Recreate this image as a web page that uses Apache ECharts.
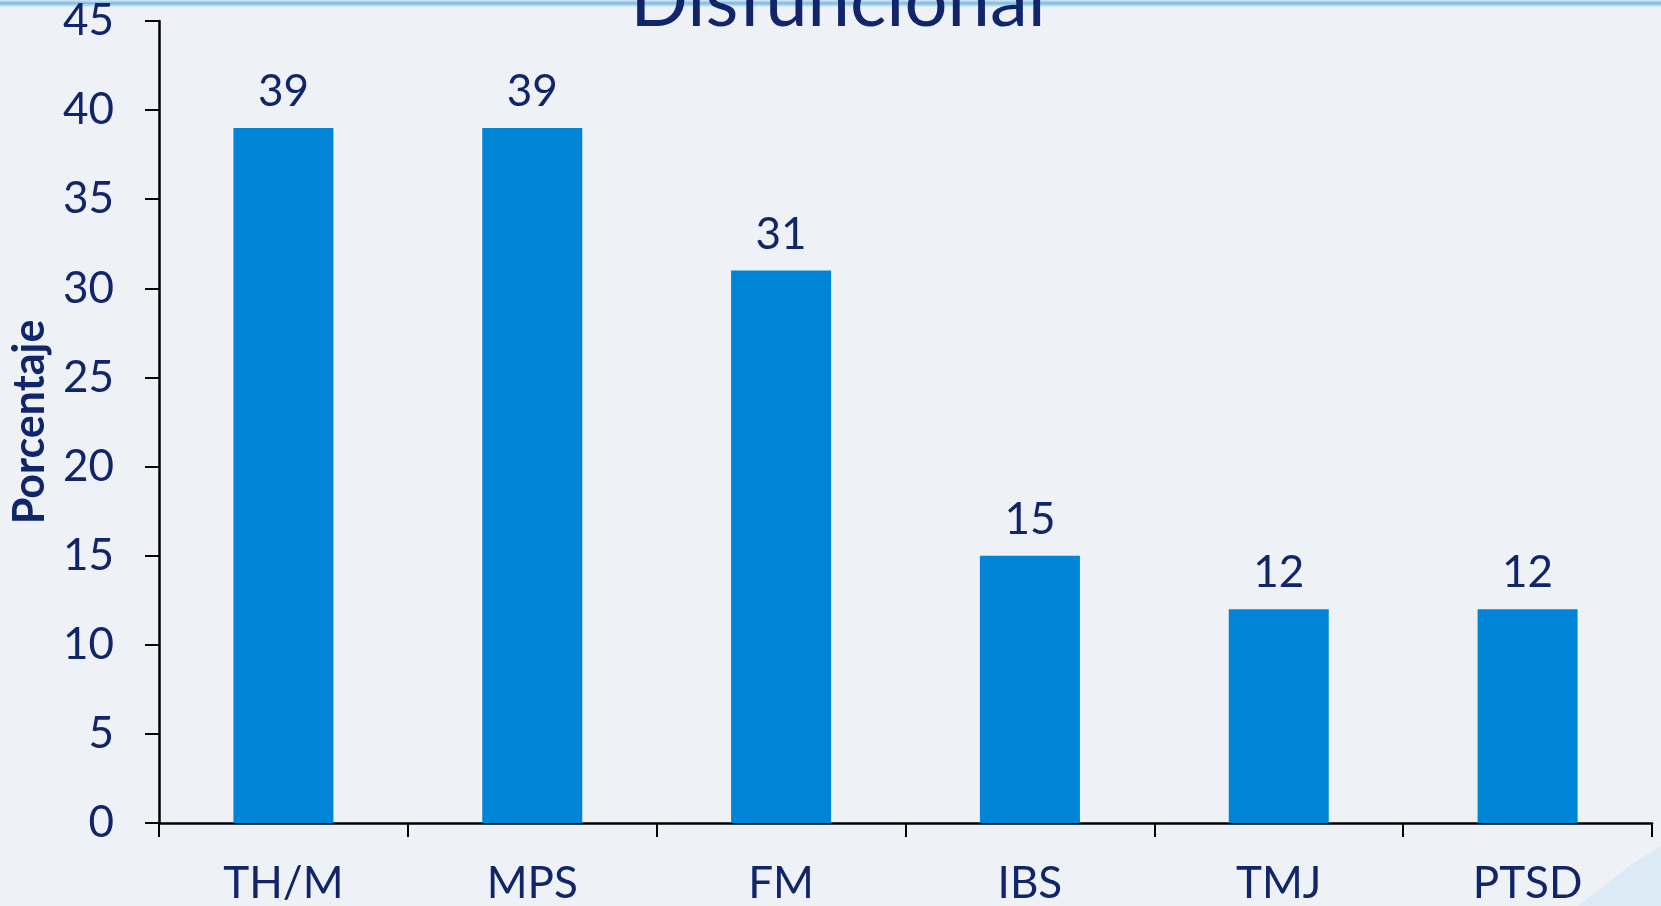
<!DOCTYPE html>
<html>
<head>
<meta charset="utf-8">
<script src="https://cdn.jsdelivr.net/npm/echarts@6/dist/echarts.min.js"></script>
<style>
html,body{margin:0;padding:0;width:1661px;height:906px;overflow:hidden;background:#EEF2F6;}
#c{width:1661px;height:906px;}
</style>
</head>
<body>
<div id="c"></div>
<script>
var categories = ['TH/M', 'MPS', 'FM', 'IBS', 'TMJ', 'PTSD'];
var values = [39, 39, 31, 15, 12, 12];
var yTicks = [0, 5, 10, 15, 20, 25, 30, 35, 40, 45];
var titleText = 'Disfuncional';
var yName = 'Porcentaje';

var navy = '#10256A';
var font = 'Lato';
var chart = echarts.init(document.getElementById('c'));
chart.setOption({
  backgroundColor: '#EEF2F6',
  animation: false,
  graphic: [
    {
      type: 'rect', shape: {x: 0, y: 0, width: 1661, height: 7}, z: 0,
      style: {
        fill: {type: 'linear', x: 0, y: 0, x2: 0, y2: 1,
          colorStops: [{offset: 0, color: '#D8EAF6'}, {offset: 0.45, color: '#79B8E4'}, {offset: 1, color: '#E4EFF7'}]}
      }
    },
    {
      type: 'polygon', z: 0,
      shape: {points: [[1578, 906], [1605, 885], [1632, 864], [1661, 846], [1661, 906]]},
      style: {fill: 'rgba(200,225,244,0.5)'}
    },
    {
      type: 'text', z: 10,
      style: {
        text: titleText, x: 838, y: 39,
        fontFamily: font, fontSize: 76, fill: navy,
        textAlign: 'center', textVerticalAlign: 'bottom'
      }
    }
  ],
  grid: {left: 159, right: 9, top: 21, bottom: 83, containLabel: false, outerBoundsMode: 'none'},
  xAxis: {
    type: 'category',
    data: categories,
    axisLine: {show: true, lineStyle: {color: '#000', width: 2.5}},
    axisTick: {show: true, length: 14, alignWithLabel: false, lineStyle: {color: '#000', width: 2}},
    axisLabel: {color: navy, fontFamily: font, fontSize: 44, margin: 39, interval: 0}
  },
  yAxis: {
    type: 'value',
    min: yTicks[0], max: yTicks[yTicks.length - 1], interval: 5,
    name: yName, nameLocation: 'middle', nameRotate: 90, nameGap: 106,
    nameTextStyle: {color: navy, fontFamily: font, fontSize: 43, fontWeight: 'bold'},
    axisLine: {show: true, lineStyle: {color: '#000', width: 2.5}},
    axisTick: {show: true, length: 14, lineStyle: {color: '#000', width: 2}},
    splitLine: {show: false},
    axisLabel: {color: navy, fontFamily: font, fontSize: 44, margin: 45}
  },
  series: [{
    type: 'bar',
    data: values,
    barWidth: 100,
    itemStyle: {color: '#0084D7'},
    label: {show: true, position: 'top', distance: 14, color: navy, fontFamily: font, fontSize: 44}
  }]
});
</script>
</body>
</html>
